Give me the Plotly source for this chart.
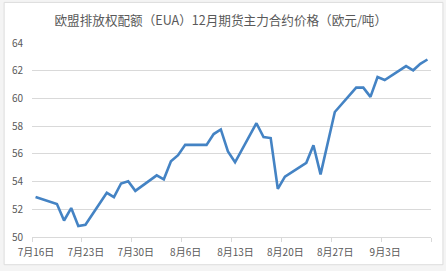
import plotly.graph_objects as go
import pandas as pd

dates = ["2021-07-16", "2021-07-19", "2021-07-20", "2021-07-21", "2021-07-22", "2021-07-23",
         "2021-07-26", "2021-07-27", "2021-07-28", "2021-07-29", "2021-07-30",
         "2021-08-02", "2021-08-03", "2021-08-04", "2021-08-05", "2021-08-06",
         "2021-08-09", "2021-08-10", "2021-08-11", "2021-08-12", "2021-08-13",
         "2021-08-16", "2021-08-17", "2021-08-18", "2021-08-19", "2021-08-20",
         "2021-08-23", "2021-08-24", "2021-08-25", "2021-08-26", "2021-08-27",
         "2021-08-30", "2021-08-31", "2021-09-01", "2021-09-02", "2021-09-03",
         "2021-09-06", "2021-09-07", "2021-09-08", "2021-09-09"]
prices = [52.88, 52.38, 51.19, 52.09, 50.79, 50.88,
          53.19, 52.88, 53.86, 54.02, 53.33,
          54.45, 54.16, 55.47, 55.90, 56.66,
          56.65, 57.43, 57.76, 56.17, 55.39,
          58.21, 57.21, 57.14, 53.47, 54.36,
          55.35, 56.62, 54.52, 56.80, 59.02,
          60.78, 60.78, 60.11, 61.54, 61.33,
          62.33, 62.03, 62.50, 62.81]
tick_dates = ["2021-07-16", "2021-07-23", "2021-07-30", "2021-08-06", "2021-08-13",
              "2021-08-20", "2021-08-27", "2021-09-03", "2021-09-10"]
tick_labels = ["7月16日", "7月23日", "7月30日", "8月6日", "8月13日",
               "8月20日", "8月27日", "9月3日", ""]
title_text = "欧盟排放权配额（EUA）12月期货主力合约价格（欧元/吨）"

# points centered within each day (Excel date-axis style)
xs = [pd.Timestamp(d) + pd.Timedelta(hours=12) for d in dates]

font_family = "Noto Sans CJK SC, Noto Sans, sans-serif"
grey = "#595959"

fig = go.Figure()
fig.add_trace(go.Scatter(x=xs, y=prices, mode="lines",
                         line=dict(color="#4483c4", width=2.6),
                         hoverinfo="skip"))

fig.update_layout(
    width=446, height=271,
    margin=dict(l=30, r=15, t=43, b=32),
    paper_bgcolor="#f4f4f4",
    plot_bgcolor="rgba(0,0,0,0)",
    showlegend=False,
    font=dict(family=font_family, size=10, color=grey),
    title=dict(text=title_text, x=0.495, xanchor="center", y=1 - 21 / 271,
               yanchor="middle", yref="container",
               font=dict(family=font_family, size=12.6, color=grey)),
    shapes=[dict(type="rect", xref="paper", yref="paper",
                 x0=-28 / 401, x1=413 / 401, y0=-28 / 196, y1=237 / 196,
                 line=dict(color="#dcdcdc", width=1), fillcolor="white", layer="below")],
)
fig.update_xaxes(
    type="date",
    range=["2021-07-16", "2021-09-10"],
    tickmode="array", tickvals=tick_dates, ticktext=tick_labels,
    ticks="outside", ticklen=4, tickcolor="#d9d9d9", tickwidth=1,
    showline=True, linecolor="#d9d9d9", linewidth=1,
    showgrid=False, zeroline=False,
    ticklabelshift=4,
    ticklabelstandoff=2,
    tickfont=dict(size=10, color=grey),
)
fig.update_yaxes(
    range=[50, 64], dtick=2, tick0=50,
    showgrid=True, gridcolor="#d9d9d9", gridwidth=1,
    zeroline=False, showline=False, ticks="",
    ticklabelstandoff=8,
    tickfont=dict(size=10, color=grey),
)

fig.write_html("out.html")
